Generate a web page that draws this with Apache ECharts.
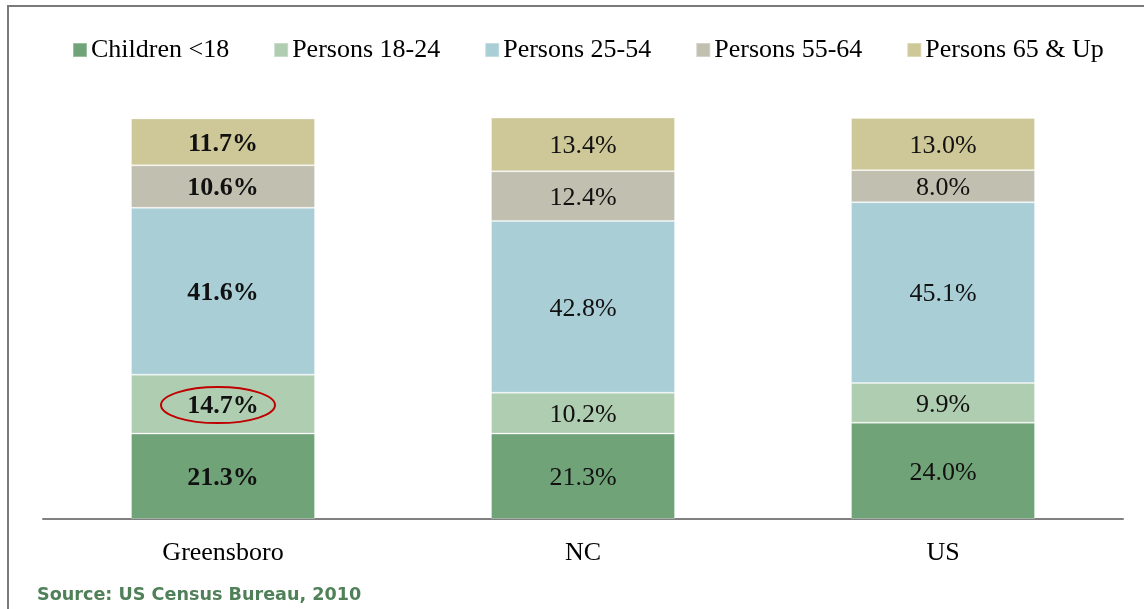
<!DOCTYPE html>
<html><head><meta charset="utf-8">
<script src="https://cdn.jsdelivr.net/npm/echarts@6/dist/echarts.min.js"></script>
<style>html,body{margin:0;padding:0;background:#fff;}#c{width:1144px;height:609px;}</style>
</head><body><div id="c"></div>
<script>
const categories = ['Greensboro', 'NC', 'US'];
const seriesNames = ['Children <18', 'Persons 18-24', 'Persons 25-54', 'Persons 55-64', 'Persons 65 & Up'];
const children = [21.3, 21.3, 24.0];
const persons18_24 = [14.7, 10.2, 9.9];
const persons25_54 = [41.6, 42.8, 45.1];
const persons55_64 = [10.6, 12.4, 8.0];
const persons65up = [11.7, 13.4, 13.0];
const sourceText = 'Source: US Census Bureau, 2010';

const colors = ['#71a379', '#afcdb0', '#a9ced6', '#c0bfb0', '#cec797'];
const allData = [children, persons18_24, persons25_54, persons55_64, persons65up];
const serif = '"Liberation Serif", "Times New Roman", serif';

const series = allData.map((arr, i) => ({
  name: seriesNames[i],
  type: 'bar',
  stack: 'total',
  barWidth: 184,
  itemStyle: { color: colors[i], borderColor: 'rgba(255,255,255,0.3)', borderWidth: 1 },
  label: {
    show: true,
    position: 'inside',
    offset: [0, 2],
    fontFamily: serif,
    fontSize: 26,
    color: '#111',
    formatter: p => p.value.toFixed(1) + '%'
  },
  data: arr.map((v, j) => ({
    value: v,
    label: { fontWeight: j === 0 ? 'bold' : 'normal' }
  }))
}));

const border = { type: 'rect', shape: { x: 8, y: 6, width: 1160, height: 640 }, style: { fill: 'none', stroke: '#7a7a7a', lineWidth: 2 }, silent: true };
const source = { type: 'text', left: 37, top: 586, style: { text: sourceText, fill: '#4f8058', font: 'bold 17.6px "DejaVu Sans", sans-serif' } };

const chart = echarts.init(document.getElementById('c'), null, { renderer: 'canvas' });
chart.setOption({
  animation: false,
  backgroundColor: '#fff',
  legend: {
    top: 32,
    left: 67,
    itemWidth: 14,
    itemHeight: 14,
    itemGap: 44,
    icon: 'rect',
    textStyle: { fontFamily: serif, fontSize: 26, color: '#000', padding: [0, 0, 0, -1] },
    data: seriesNames
  },
  grid: { left: 43, right: 21, top: 118, bottom: 90 },
  xAxis: {
    type: 'category',
    data: categories,
    axisLine: { lineStyle: { color: '#808080', width: 2 } },
    axisTick: { show: false },
    axisLabel: { fontFamily: serif, fontSize: 26, color: '#000', margin: 21 }
  },
  yAxis: {
    type: 'value', min: 0, max: 100,
    show: false, splitLine: { show: false }
  },
  series: series,
  graphic: [border, source]
});

// red ellipse annotation around Greensboro 18-24 label
const pt = chart.convertToPixel({ gridIndex: 0 }, [0, children[0] + persons18_24[0] / 2]);
chart.setOption({
  graphic: [
    border, source,
    { type: 'ellipse', shape: { cx: pt[0] - 5, cy: pt[1] + 1, rx: 57, ry: 18 }, style: { fill: 'none', stroke: '#c00000', lineWidth: 2 }, z: 100 }
  ]
});
</script></body></html>
